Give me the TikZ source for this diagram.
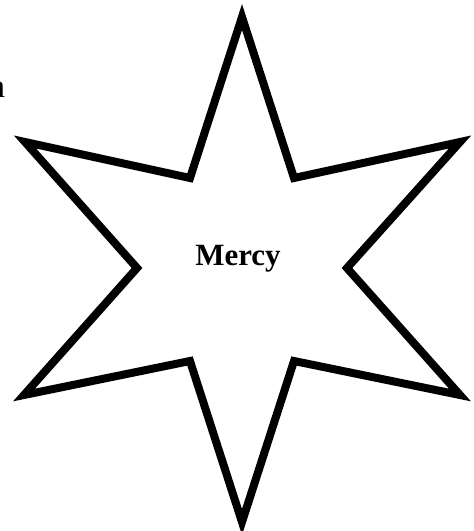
\documentclass[tikz,border=0pt]{standalone}
\usepackage{fontspec}
\setmainfont{Liberation Serif}
\usetikzlibrary{positioning}
\tikzset{
  starline/.style={draw=black,line width=0.16cm,line join=miter,fill=white},
  startext/.style={font=\fontsize{17.6}{21}\selectfont\bfseries,inner sep=0pt}
}

\begin{document}
\begin{tikzpicture}
  \useasboundingbox (-4.84,-5.26) rectangle (4.62,5.36);
  \path[starline]
    (0,5.02)--(1.04,1.80)--(4.36,2.52)--(2.10,0)--(4.36,-2.54)--(1.04,-1.86)
    --(0,-5.08)--(-1.04,-1.86)--(-4.36,-2.54)--(-2.10,0)--(-4.34,2.52)--(-1.04,1.80)--cycle;
  \node[startext] (mercy) at (-0.08,0.18) {Mercy};
  \node[anchor=base east,inner sep=0pt,font=\fontsize{18.8}{22}\selectfont] (cutn) at (-4.73,3.40) {n};
\end{tikzpicture}
\end{document}
